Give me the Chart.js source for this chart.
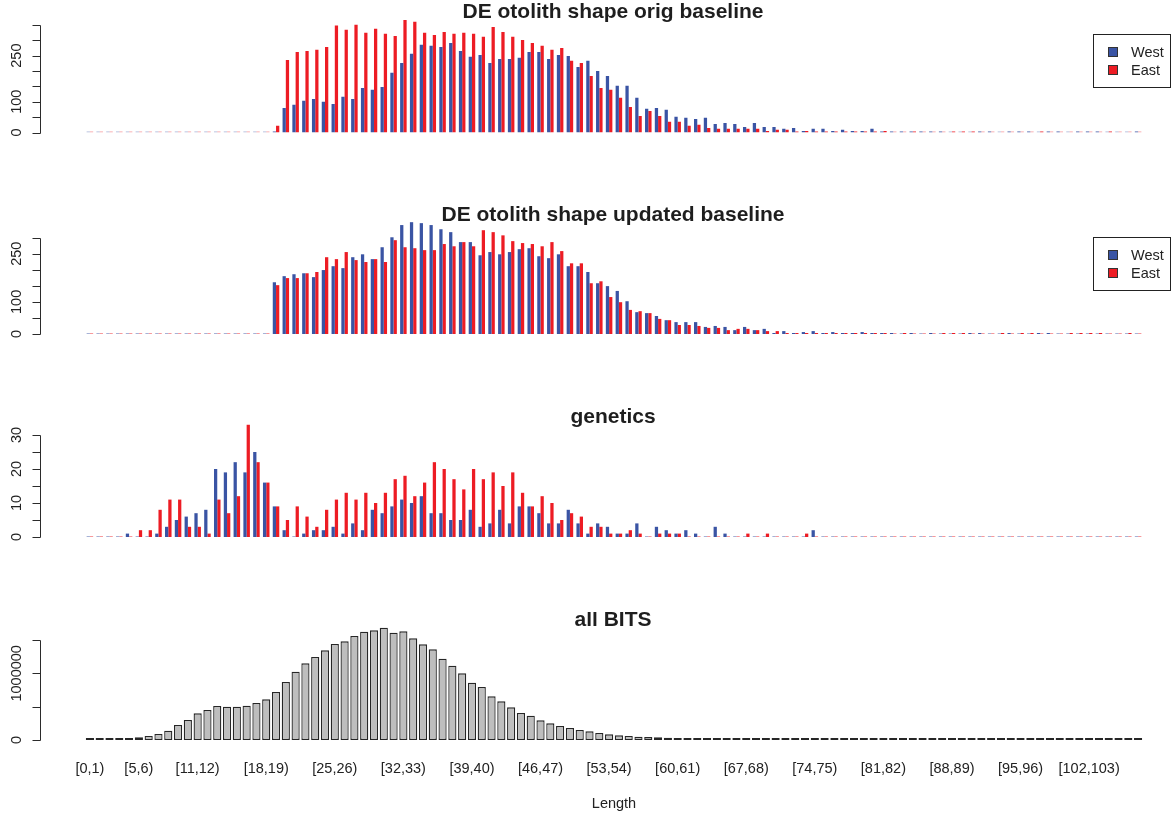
<!DOCTYPE html>
<html>
<head>
<meta charset="utf-8">
<script src="https://cdn.jsdelivr.net/npm/chart.js@4.4.1/dist/chart.umd.min.js"></script>
<style>
  html, body { margin: 0; padding: 0; background: #fff; }
  #wrap { position: relative; width: 1171px; height: 816px; }
  #wrap canvas { position: absolute; left: 0; }
</style>
</head>
<body>
<div id="wrap">
  <canvas id="p1" width="1171" height="204" style="top:0px"></canvas>
  <canvas id="p2" width="1171" height="204" style="top:204px"></canvas>
  <canvas id="p3" width="1171" height="204" style="top:408px"></canvas>
  <canvas id="p4" width="1171" height="204" style="top:612px"></canvas>
</div>
<script>
// length classes [0,1) ... [107,108)
const categories = []
for (let i = 0; i < 108; i++) categories.push('[' + i + ',' + (i + 1) + ')')

// labels R managed to print on the x axis
const xTickLabels = ['[0,1)', '[5,6)', '[11,12)', '[18,19)', '[25,26)', '[32,33)', '[39,40)',
  '[46,47)', '[53,54)', '[60,61)', '[67,68)', '[74,75)', '[81,82)', '[88,89)', '[95,96)', '[102,103)']

const seriesNames = ['West', 'East']
const titles = ['DE otolith shape orig baseline', 'DE otolith shape updated baseline', 'genetics', 'all BITS']

// DE otolith shape orig baseline
const westOrig = [
  0, 0, 0, 0, 0, 0, 0, 0, 0, 0,
  0, 0, 0, 0, 0, 0, 0, 0, 0, 3,
  80, 90, 103, 109, 100, 93, 116, 109, 145, 139,
  148, 194, 226, 256, 285, 282, 278, 291, 265, 246,
  252, 226, 239, 239, 243, 262, 262, 239, 252, 249,
  213, 233, 200, 184, 152, 152, 113, 77, 80, 74,
  51, 48, 44, 48, 28, 31, 28, 18, 31, 18,
  18, 12, 15, 5, 12, 12, 5, 9, 5, 5,
  12, 2, 1, 1, 1, 3, 1, 1, 0, 0,
  0, 1, 1, 0, 1, 3, 1, 0, 1, 1,
  0, 1, 1, 1, 0, 0, 0, 1
]
const eastOrig = [
  0, 0, 0, 0, 0, 0, 0, 0, 0, 0,
  0, 0, 0, 0, 0, 0, 0, 0, 0, 22,
  236, 262, 265, 269, 278, 348, 334, 350, 324, 337,
  321, 314, 366, 360, 324, 317, 327, 321, 324, 321,
  311, 343, 327, 311, 301, 291, 282, 269, 275, 233,
  226, 184, 145, 139, 113, 83, 54, 70, 54, 35,
  35, 22, 25, 15, 12, 12, 12, 12, 12, 5,
  9, 9, 2, 5, 2, 2, 2, 2, 2, 2,
  3, 5, 0, 0, 2, 0, 0, 0, 1, 1,
  1, 0, 0, 0, 0, 0, 0, 2, 0, 0,
  0, 0, 0, 0, 2, 0, 0, 0
]

// DE otolith shape updated baseline
const westUpd = [
  0, 0, 0, 0, 0, 0, 0, 0, 0, 0,
  0, 0, 0, 0, 0, 0, 0, 0, 0, 161,
  180, 186, 189, 177, 199, 211, 205, 239, 248, 233,
  270, 301, 339, 348, 345, 339, 326, 317, 286, 286,
  245, 255, 248, 255, 264, 267, 242, 236, 248, 211,
  211, 193, 158, 149, 134, 102, 68, 65, 56, 43,
  37, 37, 37, 22, 25, 22, 12, 22, 12, 16,
  3, 9, 3, 6, 9, 3, 6, 3, 1, 6,
  3, 1, 1, 0, 3, 0, 1, 0, 0, 0,
  1, 1, 0, 0, 3, 0, 0, 1, 1, 0,
  0, 0, 0, 0, 0, 0, 0, 0
]
const eastUpd = [
  0, 0, 0, 0, 0, 0, 0, 0, 0, 0,
  0, 0, 0, 0, 0, 0, 0, 0, 0, 152,
  174, 174, 189, 193, 239, 233, 255, 230, 224, 233,
  224, 292, 270, 267, 261, 261, 280, 273, 286, 273,
  323, 317, 307, 289, 283, 280, 273, 286, 258, 220,
  220, 158, 164, 115, 99, 75, 71, 65, 47, 43,
  28, 28, 25, 19, 19, 12, 16, 16, 12, 9,
  9, 3, 3, 3, 3, 3, 3, 1, 3, 3,
  3, 2, 0, 1, 0, 0, 0, 1, 1, 3,
  0, 0, 0, 1, 0, 1, 1, 0, 0, 0,
  1, 1, 1, 1, 0, 0, 1, 0
]

// genetics
const westGen = [
  0, 0, 0, 0, 1, 0, 0, 1, 3, 5,
  6, 7, 8, 20, 19, 22, 19, 25, 16, 9,
  2, 0, 1, 2, 2, 3, 1, 4, 2, 8,
  7, 9, 11, 10, 12, 7, 7, 5, 5, 8,
  3, 4, 8, 4, 9, 9, 7, 4, 4, 8,
  4, 1, 4, 3, 1, 1, 4, 0, 3, 2,
  1, 2, 1, 0, 3, 1, 0, 0, 0, 0,
  0, 0, 0, 0, 2, 0, 0, 0, 0, 0,
  0, 0, 0, 0, 0, 0, 0, 0, 0, 0,
  0, 0, 0, 0, 0, 0, 0, 0, 0, 0,
  0, 0, 0, 0, 0, 0, 0, 0
]
const eastGen = [
  0, 0, 0, 0, 0, 2, 2, 8, 11, 11,
  3, 3, 1, 11, 7, 12, 33, 22, 16, 9,
  5, 9, 6, 3, 8, 11, 13, 11, 13, 10,
  13, 17, 18, 12, 16, 22, 20, 17, 14, 20,
  17, 19, 15, 19, 13, 9, 12, 10, 5, 7,
  6, 3, 3, 1, 1, 2, 1, 0, 1, 1,
  1, 0, 0, 0, 0, 0, 0, 1, 0, 1,
  0, 0, 0, 1, 0, 0, 0, 0, 0, 0,
  0, 0, 0, 0, 0, 0, 0, 0, 0, 0,
  0, 0, 0, 0, 0, 0, 0, 0, 0, 0,
  0, 0, 0, 0, 0, 0, 0, 0
]

// all BITS
const allBits = [
  1000, 1500, 2500, 4000, 15000, 40000, 60000, 90000, 140000, 225000,
  300000, 400000, 450000, 510000, 500000, 500000, 515000, 555000, 610000, 720000,
  870000, 1025000, 1150000, 1245000, 1345000, 1440000, 1480000, 1560000, 1625000, 1645000,
  1685000, 1610000, 1630000, 1525000, 1435000, 1360000, 1220000, 1115000, 1000000, 860000,
  795000, 655000, 580000, 490000, 405000, 365000, 295000, 250000, 210000, 180000,
  150000, 130000, 105000, 85000, 70000, 60000, 50000, 45000, 40000, 35000,
  30000, 25000, 20000, 17000, 14000, 12000, 10000, 8000, 7000, 6000,
  5000, 4500, 4000, 3500, 3000, 2800, 2500, 2200, 2000, 1800,
  1600, 1500, 1400, 1300, 1200, 1100, 1000, 900, 800, 800,
  700, 700, 600, 600, 500, 500, 400, 400, 400, 300,
  300, 300, 200, 200, 200, 200, 100, 100
]

// y axis ticks and the labels that are printed
const yTicks1 = [0, 50, 100, 150, 200, 250, 300, 350]
const yLabels1 = [0, 100, 250]
const yTicks2 = [0, 50, 100, 150, 200, 250, 300]
const yLabels2 = [0, 100, 250]
const yTicks3 = [0, 5, 10, 15, 20, 25, 30]
const yLabels3 = [0, 10, 20, 30]
const yTicks4 = [0, 500000, 1000000, 1500000]
const yLabels4 = [0, 1000000]

const FONT = '"Liberation Sans", Arial, Helvetica, sans-serif'
const colors = ['#3a54a4', '#ed1c24']
const faint = ['rgba(58,84,164,0.45)', 'rgba(237,28,36,0.45)']

Chart.defaults.font.family = FONT

// draws the R style bits: title, y axis, legend
const rStyle = {
  id: 'rstyle',
  afterDraw(chart, args, o) {
    const { ctx, chartArea: a } = chart
    const y = chart.scales.y
    ctx.save()
    ctx.fillStyle = '#1e1e1e'
    ctx.font = 'bold 21px ' + FONT
    ctx.textAlign = 'center'
    ctx.textBaseline = 'middle'
    ctx.fillText(o.title, (a.left + a.right) / 2 - 1, a.top - 2.5)

    const ax = 40.5
    ctx.strokeStyle = '#2b2b2b'
    ctx.lineWidth = 1
    ctx.beginPath()
    ctx.moveTo(ax, Math.round(y.getPixelForValue(o.ticks[0])) + 0.5)
    ctx.lineTo(ax, Math.round(y.getPixelForValue(o.ticks[o.ticks.length - 1])) + 0.5)
    o.ticks.forEach(t => {
      const py = Math.round(y.getPixelForValue(t)) + 0.5
      ctx.moveTo(ax - 8, py)
      ctx.lineTo(ax, py)
    })
    ctx.stroke()

    ctx.fillStyle = '#222'
    ctx.font = '14.5px ' + FONT
    o.labels.forEach(t => {
      ctx.save()
      ctx.translate(17, y.getPixelForValue(t))
      ctx.rotate(-Math.PI / 2)
      ctx.fillText(String(t), 0, 0)
      ctx.restore()
    })

    if (o.legend) {
      const lx = 1093.5
      const ly = Math.round(a.top + 19) + 0.5
      ctx.strokeStyle = '#222'
      ctx.strokeRect(lx, ly, 77, 53)
      ctx.textAlign = 'left'
      chart.data.datasets.forEach((ds, i) => {
        const cy = ly + 17 + i * 18
        ctx.fillStyle = colors[i]
        ctx.fillRect(1108, Math.round(cy - 5), 10, 10)
        ctx.strokeStyle = '#333'
        ctx.strokeRect(1108.5, Math.round(cy - 5) + 0.5, 9, 9)
        ctx.fillStyle = '#222'
        ctx.fillText(ds.label, 1131, cy + 1)
      })
    }
    ctx.restore()
  }
}

function pairedPanel(id, west, east, yMax, pad, ticks, labels, title) {
  return new Chart(document.getElementById(id), {
    type: 'bar',
    data: {
      labels: categories,
      datasets: [west, east].map((d, i) => ({
        label: seriesNames[i],
        data: d,
        backgroundColor: c => (c.raw === 0 ? faint[i] : colors[i]),
        borderWidth: 0,
        minBarLength: 1,
        categoryPercentage: 2 / 3,
        barPercentage: 1
      }))
    },
    options: {
      responsive: false,
      animation: false,
      devicePixelRatio: 1,
      layout: { padding: { left: 85, right: 28, top: pad[0], bottom: pad[1] } },
      scales: {
        x: { display: false, offset: true },
        y: { display: false, min: 0, max: yMax }
      },
      plugins: {
        legend: { display: false },
        title: { display: false },
        tooltip: { enabled: false },
        rstyle: { title: title, ticks: ticks, labels: labels, legend: id !== 'p3' }
      }
    },
    plugins: [rStyle]
  })
}

pairedPanel('p1', westOrig, eastOrig, 382, [15, 71.5], yTicks1, yLabels1, titles[0])
pairedPanel('p2', westUpd, eastUpd, 361, [14, 74], yTicks2, yLabels2, titles[1])
pairedPanel('p3', westGen, eastGen, 34.4, [12, 75], yTicks3, yLabels3, titles[2])

new Chart(document.getElementById('p4'), {
  type: 'bar',
  data: {
    labels: categories,
    datasets: [{
      label: 'all BITS',
      data: allBits,
      backgroundColor: '#bebebe',
      borderColor: '#262626',
      borderWidth: 1.3,
      borderSkipped: false,
      minBarLength: 2,
      categoryPercentage: 1,
      barPercentage: 1 / 1.2
    }]
  },
  options: {
    responsive: false,
    animation: false,
    devicePixelRatio: 1,
    layout: { padding: { left: 85, right: 28, top: 11, bottom: 0 } },
    scales: {
      x: {
        offset: true,
        grid: { display: false, drawTicks: false },
        border: { display: false },
        ticks: {
          autoSkip: false,
          maxRotation: 0,
          minRotation: 0,
          padding: 20,
          color: '#222',
          font: { size: 14.5 },
          callback: (v, i) => (xTickLabels.includes(categories[i]) ? categories[i] : '')
        },
        title: { display: true, text: 'Length', color: '#222', font: { size: 14.5 }, padding: { top: 0, bottom: 3 } },
        afterFit: s => { s.height = 76 }
      },
      y: { display: false, min: 0, max: 1755000 }
    },
    plugins: {
      legend: { display: false },
      title: { display: false },
      tooltip: { enabled: false },
      rstyle: { title: titles[3], ticks: yTicks4, labels: yLabels4, legend: false }
    }
  },
  plugins: [rStyle]
})
</script>
</body>
</html>
